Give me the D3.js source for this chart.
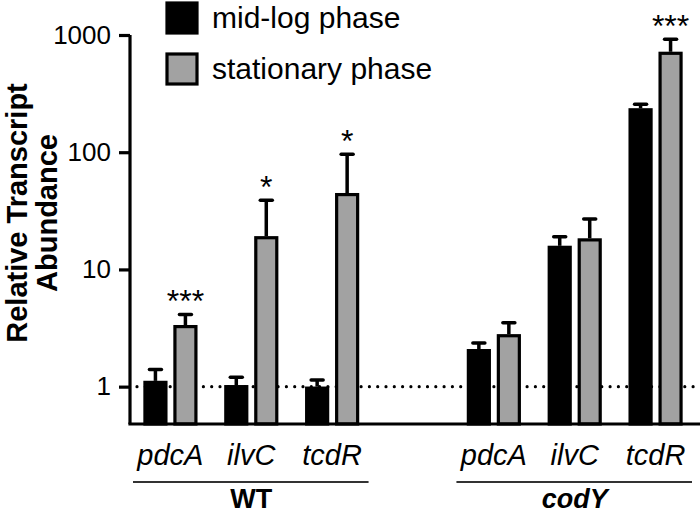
<!DOCTYPE html>
<html><head><meta charset="utf-8">
<script src="https://cdn.jsdelivr.net/npm/d3@7"></script>
<style>body{margin:0;background:#fff}svg{display:block}text{font-family:"Liberation Sans",Arial,sans-serif}</style>
</head><body><svg id="c" width="700" height="516"></svg>
<script>
const strains = ["WT", "codY"];
const genes = ["pdcA", "ilvC", "tcdR"];
const seriesNames = ["mid-log phase", "stationary phase"];
// values ordered WT pdcA, ilvC, tcdR, codY pdcA, ilvC, tcdR
const midLog      = [1.12, 1.03, 1.00, 2.09, 15.9, 237];
const midLogHigh  = [1.40, 1.20, 1.14, 2.36, 19.0, 256];
const stationary  = [3.35, 19.2, 44.8, 2.80, 18.4, 719];
const statHigh    = [4.13, 39.0, 96.0, 3.50, 26.9, 922];
const stars       = ["***", "*", "*", "", "", "***"];
const yTicks      = [1, 10, 100, 1000];

const svg = d3.select("#c");
const colors = {"mid-log phase": "#000", "stationary phase": "#a2a2a2"};

const y = d3.scaleLog().domain([0.48, 1000]).range([424, 35]);
const xStrain = d3.scaleBand().domain(strains).range([130, 696]).paddingInner(0.25);
const xGene = d3.scaleBand().domain(genes).range([0, xStrain.bandwidth()]);
const xSer = d3.scaleBand().domain(seriesNames).range([0, xGene.bandwidth()]).paddingInner(0.2).paddingOuter(0.448);

const rows = [];
strains.forEach((s, si) => genes.forEach((g, gi) => {
  const i = si * 3 + gi;
  rows.push({strain: s, gene: g, series: seriesNames[0], v: midLog[i], hi: midLogHigh[i], star: ""});
  rows.push({strain: s, gene: g, series: seriesNames[1], v: stationary[i], hi: statHigh[i], star: stars[i]});
}));
const bx = d => xStrain(d.strain) + xGene(d.gene) + xSer(d.series);
const bw = xSer.bandwidth();

// dotted reference line at 1
svg.append("line").attr("x1", 137).attr("x2", 700).attr("y1", y(1)).attr("y2", y(1))
  .attr("stroke", "#000").attr("stroke-width", 3.2).attr("stroke-linecap", "round")
  .attr("stroke-dasharray", "0,8.3");

// error bars
const eb = svg.append("g");
rows.forEach(d => {
  const cx = bx(d) + bw / 2;
  eb.append("line").attr("x1", cx).attr("x2", cx).attr("y1", y(d.v)).attr("y2", y(d.hi))
    .attr("stroke", "#000").attr("stroke-width", 3.5);
  eb.append("line").attr("x1", cx - 6).attr("x2", cx + 6).attr("y1", y(d.hi)).attr("y2", y(d.hi))
    .attr("stroke", "#000").attr("stroke-width", 3.5).attr("stroke-linecap", "round");
});

// bars
svg.append("g").selectAll("rect").data(rows).join("rect")
  .attr("x", d => bx(d) + 1.5).attr("width", bw - 3)
  .attr("y", d => y(d.v) + 1.5).attr("height", d => y.range()[0] - y(d.v) - 1.5)
  .attr("fill", d => colors[d.series]).attr("stroke", "#000").attr("stroke-width", 3.2);

// stars
svg.append("g").selectAll("text").data(rows.filter(d => d.star)).join("text")
  .attr("x", d => bx(d) + bw / 2).attr("y", d => y(d.hi) - 2)
  .attr("text-anchor", "middle").attr("font-size", 32).text(d => d.star);

// axes
const yAxis = d3.axisLeft(y).tickValues(yTicks).tickFormat(d3.format("d")).tickSize(11).tickPadding(8);
const gy = svg.append("g").attr("transform", "translate(130,0)").call(yAxis);
gy.select(".domain").attr("stroke-width", 3.2).attr("d", `M0,${y(1000)}V${y.range()[0]}`);
gy.selectAll(".tick line").attr("stroke-width", 3.2);
gy.selectAll(".tick text").attr("font-size", 26).attr("fill", "#000").attr("font-family", "Liberation Sans, Arial, sans-serif");

svg.append("line").attr("x1", 128.4).attr("x2", 700).attr("y1", y.range()[0]).attr("y2", y.range()[0])
  .attr("stroke", "#000").attr("stroke-width", 3.2);

// gene labels
strains.forEach(s => {
  const g0 = xStrain(s);
  genes.forEach(g => {
    svg.append("text").attr("x", g0 + xGene(g) + xGene.bandwidth() / 2).attr("y", 465)
      .attr("text-anchor", "middle").attr("font-size", 29).attr("font-style", "italic").text(g);
  });
  svg.append("line").attr("x1", g0 + 3).attr("x2", g0 + xStrain.bandwidth() - 4)
    .attr("y1", 482).attr("y2", 482).attr("stroke", "#333").attr("stroke-width", 2);
  svg.append("text").attr("x", g0 + xStrain.bandwidth() / 2).attr("y", 508)
    .attr("text-anchor", "middle").attr("font-size", 27).attr("font-weight", "bold")
    .attr("font-style", s === "codY" ? "italic" : "normal").text(s);
});

// y title
const yt = svg.append("text").attr("transform", "translate(27,213) rotate(-90)")
  .attr("text-anchor", "middle").attr("font-size", 29).attr("font-weight", "bold");
yt.append("tspan").attr("x", 0).attr("y", 0).text("Relative Transcript");
yt.append("tspan").attr("x", 0).attr("y", 30).text("Abundance");

// legend
const lg = svg.append("g").selectAll("g").data(seriesNames).join("g")
  .attr("transform", (d, i) => `translate(167,${3 + i * 51})`);
lg.append("rect").attr("width", 30).attr("height", 30).attr("fill", d => colors[d])
  .attr("stroke", "#000").attr("stroke-width", 3.2);
lg.append("text").attr("x", 45).attr("y", 25).attr("font-size", 30).text(d => d);
</script></body></html>
